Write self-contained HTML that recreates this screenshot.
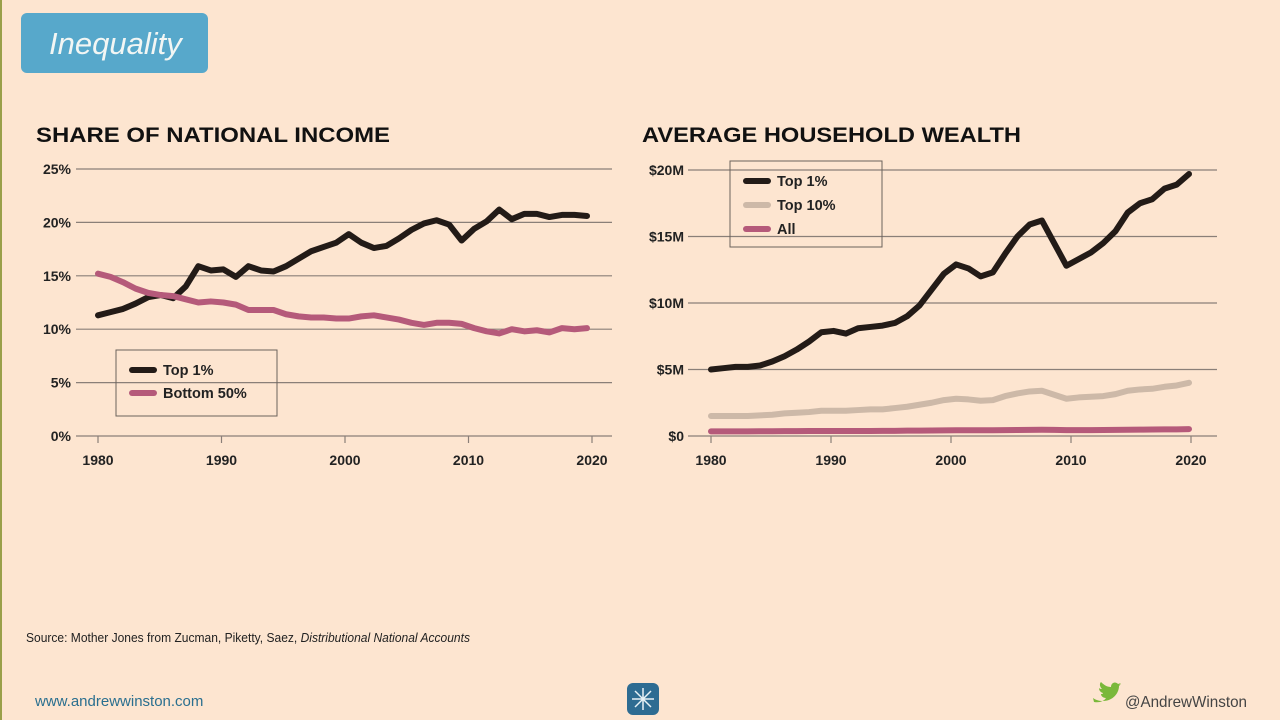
<!DOCTYPE html>
<html><head><meta charset="utf-8">
<style>
body{margin:0;width:1280px;height:720px;background:#fde5d0;font-family:"Liberation Sans",sans-serif;overflow:hidden;position:relative}
.t{position:absolute}
</style></head><body>
<div class="t" style="left:0;top:0;width:2px;height:720px;background:#9aa04a"></div>
<div class="t" style="left:21px;top:13px;width:187px;height:60px;background:#57a8cb;border-radius:6px;color:#f2f6f4;font-style:italic;font-size:31px;line-height:62px;padding-left:28px;box-sizing:border-box">Inequality</div>
<svg class="t" style="left:0;top:0" width="1280" height="720" id="c">
<text x="36" y="142" font-size="21" font-weight="bold" fill="#111" font-family="Liberation Sans" textLength="354" lengthAdjust="spacingAndGlyphs">SHARE OF NATIONAL INCOME</text>
<text x="642" y="142" font-size="21" font-weight="bold" fill="#111" font-family="Liberation Sans" textLength="379" lengthAdjust="spacingAndGlyphs">AVERAGE HOUSEHOLD WEALTH</text>
<text x="26" y="642" font-size="12.5" fill="#222" textLength="444" lengthAdjust="spacingAndGlyphs">Source: Mother Jones from Zucman, Piketty, Saez, <tspan font-style="italic">Distributional National Accounts</tspan></text>
<text x="35" y="706" font-size="15" fill="#2a6f8f">www.andrewwinston.com</text>
<text x="1125" y="707" font-size="16" fill="#444" textLength="122" lengthAdjust="spacingAndGlyphs">@AndrewWinston</text>
<path d="M1094 702c6 1 10-1 12-4-3 0-5-2-5-4 1 0 2 0 2-1-3-1-4-3-4-5 1 1 2 1 3 1-2-2-3-5-1-7 3 3 6 5 10 5 0-4 4-6 7-3l3-1-2 2 2-1-2 2c0 7-6 15-16 15-4 0-7-1-10-3z" fill="#7ab83a"/>
<rect x="627" y="683" width="32" height="32" rx="6" fill="#2e6c92"/>
<g stroke="#e8f2f6" stroke-width="1.5"><line x1="643" y1="688" x2="643" y2="710"/><line x1="632" y1="699" x2="654" y2="699"/><line x1="635" y1="691" x2="651" y2="707"/><line x1="651" y1="691" x2="635" y2="707"/></g>
</svg>
<script>
const years=[];for(let y=1980;y<=2019;y++)years.push(y);
const incTop1=[11.3,11.6,11.9,12.4,13.0,13.2,12.9,14.0,15.9,15.5,15.6,14.9,15.9,15.5,15.4,15.9,16.6,17.3,17.7,18.1,18.9,18.1,17.6,17.8,18.5,19.3,19.9,20.2,19.8,18.3,19.4,20.1,21.2,20.3,20.8,20.8,20.5,20.7,20.7,20.6];
const incBottom50=[15.2,14.9,14.4,13.8,13.4,13.2,13.1,12.8,12.5,12.6,12.5,12.3,11.8,11.8,11.8,11.4,11.2,11.1,11.1,11.0,11.0,11.2,11.3,11.1,10.9,10.6,10.4,10.6,10.6,10.5,10.1,9.8,9.6,10.0,9.8,9.9,9.7,10.1,10.0,10.1];
const wTop1=[5.0,5.1,5.2,5.2,5.3,5.6,6.0,6.5,7.1,7.8,7.9,7.7,8.1,8.2,8.3,8.5,9.0,9.8,11.0,12.2,12.9,12.6,12.0,12.3,13.7,15.0,15.9,16.2,14.5,12.8,13.3,13.8,14.5,15.4,16.8,17.5,17.8,18.6,18.9,19.7];
const wTop10=[1.5,1.5,1.5,1.5,1.55,1.6,1.7,1.75,1.8,1.9,1.9,1.9,1.95,2.0,2.0,2.1,2.2,2.35,2.5,2.7,2.8,2.75,2.65,2.7,3.0,3.2,3.35,3.4,3.1,2.8,2.9,2.95,3.0,3.15,3.4,3.5,3.55,3.7,3.8,4.0];
const wAll=[0.35,0.35,0.35,0.35,0.36,0.36,0.37,0.37,0.38,0.38,0.38,0.38,0.38,0.38,0.39,0.39,0.4,0.4,0.41,0.42,0.43,0.43,0.43,0.43,0.44,0.45,0.46,0.47,0.46,0.44,0.44,0.44,0.45,0.46,0.47,0.48,0.49,0.5,0.5,0.52];
const incTicks=[0,5,10,15,20,25],wTicks=[0,5,10,15,20],xTicks=[1980,1990,2000,2010,2020];
const svg=document.getElementById('c'),NS='http://www.w3.org/2000/svg';
function mk(t,a,txt){const e=document.createElementNS(NS,t);for(const k in a)e.setAttribute(k,a[k]);if(txt!=null)e.textContent=txt;svg.appendChild(e);return e;}
function chart(o){
 const X=v=>o.x0+(v-1980)*(o.x1-o.x0)/40, Y=v=>o.yb-(v)*(o.yb-o.yt)/o.ymax;
 const XD=i=>o.x0+i*(o.dx1-o.x0)/(years.length-1);
 o.yticks.forEach(t=>{
  const l=mk('line',{x1:o.gl,x2:o.gr,y1:Y(t),y2:Y(t),stroke:'#8a7f78','stroke-width':1.2});
  
  const tx=mk('text',{x:o.lx,y:Y(t)+5,'font-size':14,'font-weight':'bold',fill:'#222','text-anchor':'end'},o.fmt(t));
  
 });
 xTicks.forEach(t=>{
  const l=mk('line',{x1:X(t),x2:X(t),y1:o.yb,y2:o.yb+7,stroke:'#8a7f78','stroke-width':1.2});
  
  const tx=mk('text',{x:X(t),y:o.yb+29,'font-size':14,'font-weight':'bold',fill:'#222','text-anchor':'middle'},t);
  
 });
 o.series.forEach(s=>{
  const p=mk('polyline',{points:s.d.map((v,i)=>XD(i)+','+Y(v)).join(' '),fill:'none',stroke:s.c,'stroke-width':6,'stroke-linejoin':'round','stroke-linecap':'round'});
  
 });
 const L=o.leg;const r=mk('rect',{x:L.x,y:L.y,width:L.w,height:L.h,fill:'none',stroke:'#6b625c','stroke-width':1});
 
 o.series.forEach((s,i)=>{
  const yy=L.y+20+i*(L.dy);
  const l=mk('line',{x1:L.x+16,x2:L.x+38,y1:yy,y2:yy,stroke:s.c,'stroke-width':6,'stroke-linecap':'round'});
  
  const t=mk('text',{x:L.x+47,y:yy+5,'font-size':14.5,'font-weight':'bold',fill:'#222'},s.label);
  
 });
}
chart({x0:98,x1:592,dx1:587,yb:436,yt:169,ymax:25,gl:76,gr:612,lx:71,yticks:incTicks,fmt:t=>t+'%',
 series:[{d:incTop1,c:'#231b17',n:'top1-income-line',label:'Top 1%'},{d:incBottom50,c:'#b55a7a',n:'bottom50-income-line',label:'Bottom 50%'}],
 leg:{x:116,y:350,w:161,h:66,dy:23}});
chart({x0:711,x1:1191,dx1:1189,yb:436,yt:170,ymax:20,gl:688,gr:1217,lx:684,yticks:wTicks,fmt:t=>'$'+t+(t?'M':''),
 series:[{d:wTop1,c:'#231b17',n:'top1-wealth-line',label:'Top 1%'},{d:wTop10,c:'#cdb9a8',n:'top10-wealth-line',label:'Top 10%'},{d:wAll,c:'#b55a7a',n:'all-wealth-line',label:'All'}],
 leg:{x:730,y:161,w:152,h:86,dy:24}});
</script>
</body></html>
